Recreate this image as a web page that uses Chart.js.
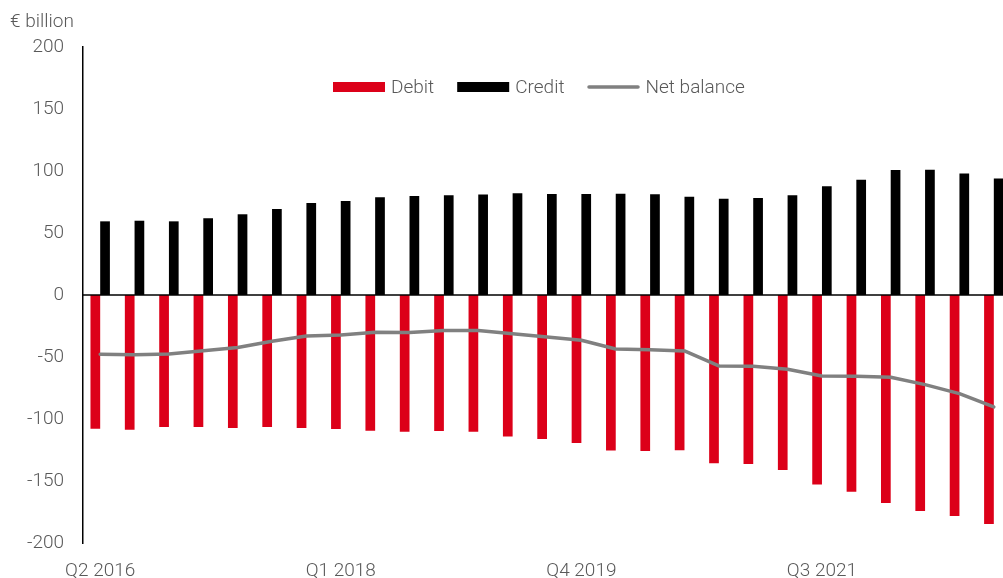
<!DOCTYPE html>
<html>
<head>
<meta charset="utf-8">
<script src="https://cdn.jsdelivr.net/npm/chart.js@4"></script>
<style>
  html, body { margin: 0; padding: 0; background: #fff; overflow: hidden; }
  #wrap { position: relative; width: 1011px; height: 578px; }
</style>
</head>
<body>
<div id="wrap"><canvas id="c"></canvas></div>
<script>
// Quarterly categories
const quarters = [
  'Q2 2016','Q3 2016','Q4 2016',
  'Q1 2017','Q2 2017','Q3 2017','Q4 2017',
  'Q1 2018','Q2 2018','Q3 2018','Q4 2018',
  'Q1 2019','Q2 2019','Q3 2019','Q4 2019',
  'Q1 2020','Q2 2020','Q3 2020','Q4 2020',
  'Q1 2021','Q2 2021','Q3 2021','Q4 2021',
  'Q1 2022','Q2 2022','Q3 2022','Q4 2022'
];
// Quarters that carry a visible axis label
const shownQuarters = ['Q2 2016', 'Q1 2018', 'Q4 2019', 'Q3 2021'];

// € billion
const debit = [-107.8, -108.6, -106.4, -106.4, -107.2, -106.4, -107.2, -108.0, -109.4, -110.2,
               -109.7, -110.2, -114.2, -116.1, -119.4, -125.5, -125.8, -125.2, -135.7, -136.3,
               -141.1, -152.9, -158.6, -167.7, -174.2, -178.2, -184.7];
const credit = [59.4, 59.9, 59.4, 61.9, 65.1, 69.3, 74.2, 75.8, 78.8, 79.9,
                80.4, 81.0, 82.0, 81.5, 81.5, 81.7, 81.2, 79.3, 77.7, 78.2,
                80.4, 87.7, 93.0, 100.8, 101.1, 97.9, 93.9];
const netBalance = [-47.8, -48.1, -47.5, -44.9, -42.4, -37.3, -33.0, -32.2, -30.1, -30.3,
                    -28.7, -28.7, -31.2, -33.8, -36.5, -43.5, -44.1, -45.1, -57.2, -57.5,
                    -59.9, -65.3, -65.6, -66.4, -72.3, -79.5, -90.3];

const yMin = -200, yMax = 200, yStep = 50;

const FONT = 'Roboto, "Liberation Sans", Arial, sans-serif';
const FONT_SIZE = 19;
const TEXT = '#595959';
const RED = '#DC0019';
const GREY = '#808080';

// Zero line drawn over the bars
const zeroLine = {
  id: 'zeroLine',
  afterDatasetsDraw(chart) {
    const { ctx, chartArea, scales } = chart;
    const y = scales.y.getPixelForValue(0);
    ctx.save();
    ctx.strokeStyle = '#000';
    ctx.lineWidth = 1.5;
    ctx.beginPath();
    ctx.moveTo(chartArea.left, y);
    ctx.lineTo(chartArea.right, y);
    ctx.stroke();
    ctx.restore();
  }
};

// Unit caption and the legend row inside the plot
const annotations = {
  id: 'annotations',
  afterDraw(chart) {
    const { ctx, chartArea } = chart;
    ctx.save();
    ctx.font = '300 ' + FONT_SIZE + 'px ' + FONT;
    ctx.fillStyle = TEXT;
    ctx.textBaseline = 'middle';
    ctx.textAlign = 'left';
    ctx.fillText('€ billion', 10, 22);

    let x = chartArea.left + 250;
    const yc = 87;
    const sw = 52, sh = 10, gap = 6, itemGap = 23;
    chart.data.datasets.forEach(ds => {
      if (ds.type === 'line') {
        ctx.strokeStyle = ds.borderColor;
        ctx.lineWidth = 3.5;
        ctx.lineCap = 'round';
        ctx.beginPath();
        ctx.moveTo(x + 1.5, yc);
        ctx.lineTo(x + sw - 1.5, yc);
        ctx.stroke();
      } else {
        ctx.fillStyle = ds.backgroundColor;
        ctx.fillRect(x, yc - sh / 2, sw, sh);
      }
      x += sw + gap;
      ctx.fillStyle = TEXT;
      ctx.fillText(ds.label, x, yc + 1);
      x += ctx.measureText(ds.label).width + itemGap;
    });
    ctx.restore();
  }
};

new Chart(document.getElementById('c'), {
  type: 'bar',
  data: {
    labels: quarters,
    datasets: [
      { label: 'Debit', data: debit, backgroundColor: RED, borderWidth: 0, order: 1 },
      { label: 'Credit', data: credit, backgroundColor: '#000', borderWidth: 0, order: 1 },
      { type: 'line', label: 'Net balance', data: netBalance, borderColor: GREY,
        backgroundColor: GREY, borderWidth: 3.5, pointRadius: 0, tension: 0,
        borderJoinStyle: 'round', borderCapStyle: 'round', order: 0 }
    ]
  },
  options: {
    responsive: true,
    maintainAspectRatio: false,
    animation: false,
    layout: { padding: { top: 47, right: 0, left: 0, bottom: 0 } },
    datasets: { bar: { categoryPercentage: 0.565, barPercentage: 1 } },
    plugins: { legend: { display: false }, tooltip: { enabled: false } },
    scales: {
      x: {
        offset: true,
        grid: { display: false, drawTicks: false },
        border: { display: false },
        ticks: {
          autoSkip: false, maxRotation: 0, padding: 17,
          color: TEXT, font: { family: FONT, size: FONT_SIZE, weight: 300 },
          callback(v, i) { const q = quarters[i]; return shownQuarters.includes(q) ? q : ''; }
        },
        afterFit(s) { s.height = 35; }
      },
      y: {
        min: yMin, max: yMax,
        grid: { display: false, drawTicks: false },
        border: { display: true, color: '#000', width: 1.5 },
        ticks: { stepSize: yStep, padding: 19, color: TEXT, font: { family: FONT, size: FONT_SIZE, weight: 300 } },
        afterFit(s) { s.width = 83; }
      }
    }
  },
  plugins: [zeroLine, annotations]
});
</script>
</body>
</html>
